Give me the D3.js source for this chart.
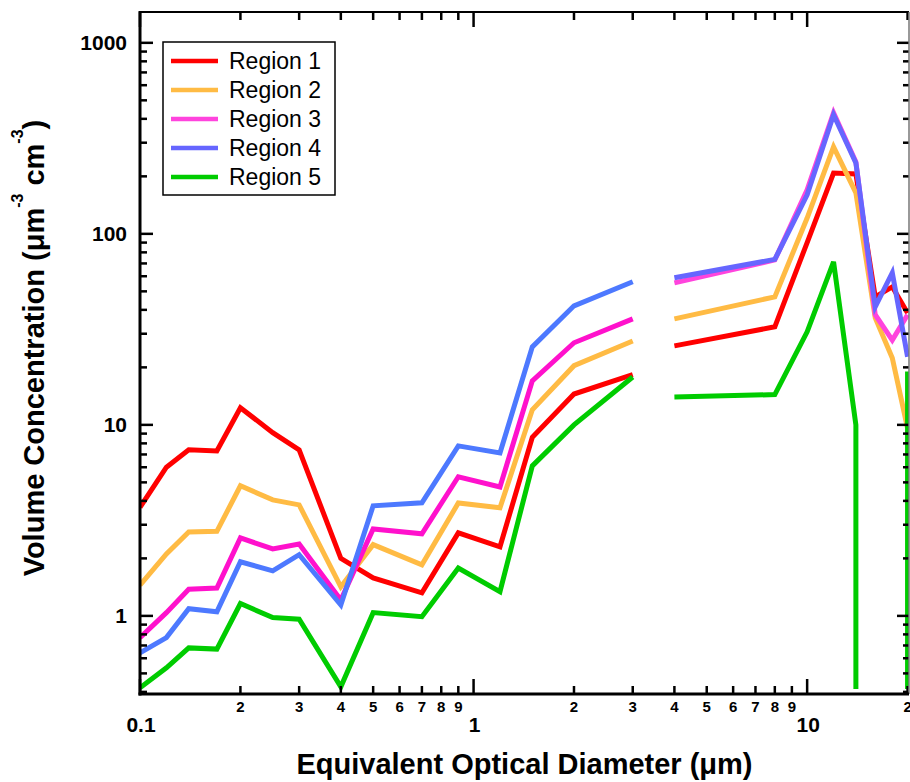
<!DOCTYPE html>
<html>
<head>
<meta charset="utf-8">
<script src="https://cdn.jsdelivr.net/npm/d3@7"></script>
<style>
  body { margin: 0; background: #fff; }
  svg { display: block; font-family: "Liberation Sans", Arial, sans-serif; }
</style>
</head>
<body>
<svg id="chart" width="910" height="782"></svg>
<script>
// size bins (µm) of the two instruments
const fineDiam = [0.1, 0.12, 0.14, 0.17, 0.2, 0.25, 0.3, 0.4, 0.5, 0.7, 0.9, 1.2, 1.5, 2, 3];
const coarseDiam = [4, 8, 10, 12, 14, 16, 18, 20];

const regionNames = ["Region 1", "Region 2", "Region 3", "Region 4", "Region 5"];
const legendColors = ["#ff0000", "#ffbb44", "#ff44dd", "#6666ff", "#00cc00"];
const fineColors = ["#ff0000", "#ffbb44", "#ff11cc", "#4d79ff", "#00cc00"];
const coarseColors = ["#ff0000", "#ffbb44", "#ff44dd", "#6666ff", "#00cc00"];

// volume concentration (µm^3 cm^-3), 0 = no data above zero
const region1Fine = [3.7, 6.0, 7.4, 7.3, 12.3, 9.1, 7.4, 2.0, 1.58, 1.32, 2.72, 2.3, 8.6, 14.5, 18.3];
const region2Fine = [1.45, 2.11, 2.75, 2.77, 4.8, 4.05, 3.81, 1.42, 2.36, 1.85, 3.9, 3.68, 12.0, 20.4, 27.5];
const region3Fine = [0.77, 1.04, 1.38, 1.40, 2.56, 2.24, 2.38, 1.21, 2.85, 2.69, 5.35, 4.73, 17.0, 26.9, 35.9];
const region4Fine = [0.64, 0.77, 1.09, 1.05, 1.92, 1.72, 2.09, 1.14, 3.77, 3.91, 7.76, 7.13, 25.6, 42.0, 56.1];
const region5Fine = [0.42, 0.535, 0.68, 0.67, 1.16, 0.98, 0.96, 0.425, 1.04, 0.99, 1.78, 1.34, 6.1, 10.0, 17.8];

const region1Coarse = [25.9, 32.6, 90, 208, 206, 46.8, 52.8, 38.5];
const region2Coarse = [35.9, 46.8, 121, 285, 164, 36.3, 22.4, 9.6];
const region3Coarse = [55.4, 73, 170, 430, 238, 37.7, 27.8, 37.7];
const region4Coarse = [58.9, 73.5, 160, 420, 235, 41.5, 62.6, 22.7];
const region5Coarse = [14.0, 14.4, 30.7, 71.3, 10.0, 0, 0, 19];

const fineSets = [region1Fine, region2Fine, region3Fine, region4Fine, region5Fine];
const coarseSets = [region1Coarse, region2Coarse, region3Coarse, region4Coarse, region5Coarse];

const plotLeft = 140, plotRight = 909, plotTop = 12, plotBottom = 694;

const svg = d3.select("#chart");

const x = d3.scaleLog().domain([0.1, 20.2]).range([plotLeft, plotRight]);
const y = d3.scaleLog().domain([0.39, 1450]).range([plotBottom, plotTop]);

const isMajor = v => Math.abs(Math.log10(v) - Math.round(Math.log10(v))) < 1e-6;

svg.append("clipPath").attr("id", "plot-clip")
  .append("rect")
  .attr("x", plotLeft).attr("y", plotTop)
  .attr("width", plotRight - plotLeft).attr("height", plotBottom - plotTop);

// LINES
// split on non-positive values; Igor style: drop to the axis at the last valid x
function segments(diam, vals) {
  const segs = [];
  let cur = [];
  vals.forEach((v, i) => {
    if (v > 0) {
      if (cur.length === 0 && i > 0 && vals[i - 1] <= 0) cur.push({ px: x(diam[i]), py: plotBottom - 5 });
      cur.push({ px: x(diam[i]), py: y(v) });
    } else if (cur.length) {
      cur.push({ px: cur[cur.length - 1].px, py: plotBottom - 5 });
      segs.push(cur);
      cur = [];
    }
  });
  if (cur.length) segs.push(cur);
  return segs;
}

const line = d3.line().x(d => d.px).y(d => d.py);
const plot = svg.append("g").attr("clip-path", "url(#plot-clip)");

regionNames.forEach((name, i) => {
  [[fineDiam, fineSets[i], fineColors[i]], [coarseDiam, coarseSets[i], coarseColors[i]]].forEach(([diam, vals, color]) => {
    segments(diam, vals).forEach(seg => {
      plot.append("path")
        .attr("d", line(seg))
        .attr("fill", "none")
        .attr("stroke", color)
        .attr("stroke-width", 5)
        .attr("stroke-linejoin", "miter");
    });
  });
});

// AXES
const axes = svg.append("g").attr("stroke", "#000");
const xTicks = x.ticks();
const yTicks = y.ticks();

xTicks.forEach(v => {
  const px = x(v);
  const len = isMajor(v) ? 15 : 8;
  axes.append("line").attr("x1", px).attr("x2", px).attr("y1", plotBottom).attr("y2", plotBottom - len).attr("stroke-width", 2.5);
  axes.append("line").attr("x1", px).attr("x2", px).attr("y1", plotTop).attr("y2", plotTop + len).attr("stroke-width", 2.5);
});
yTicks.forEach(v => {
  const py = y(v);
  const len = isMajor(v) ? 13 : 7;
  axes.append("line").attr("x1", plotLeft).attr("x2", plotLeft + len).attr("y1", py).attr("y2", py).attr("stroke-width", 2.5);
  axes.append("line").attr("x1", plotRight - len + 1).attr("x2", plotRight).attr("y1", py).attr("y2", py).attr("stroke-width", 2.5);
});

axes.append("line").attr("x1", plotLeft).attr("x2", plotRight).attr("y1", plotTop).attr("y2", plotTop).attr("stroke-width", 2);
axes.append("line").attr("x1", plotRight).attr("x2", plotRight).attr("y1", plotTop).attr("y2", plotBottom).attr("stroke-width", 1.5).attr("stroke", "#777");
axes.append("line").attr("x1", plotLeft).attr("x2", plotLeft).attr("y1", plotTop - 1).attr("y2", plotBottom + 1.5).attr("stroke-width", 3);
axes.append("line").attr("x1", plotLeft - 1.5).attr("x2", plotRight).attr("y1", plotBottom).attr("y2", plotBottom).attr("stroke-width", 3);

// tick labels
const labels = svg.append("g").attr("font-weight", "bold").attr("fill", "#000");
xTicks.forEach(v => {
  if (isMajor(v)) {
    labels.append("text").attr("x", x(v) + 1).attr("y", 732)
      .attr("text-anchor", "middle").attr("font-size", 21)
      .text(v < 1 ? v.toFixed(1) : String(v));
  } else {
    const k = Math.round(v / Math.pow(10, Math.floor(Math.log10(v) + 1e-9)));
    labels.append("text").attr("x", x(v)).attr("y", 712)
      .attr("text-anchor", "middle").attr("font-size", 15)
      .text(k);
  }
});
yTicks.filter(isMajor).forEach(v => {
  labels.append("text").attr("x", 127).attr("y", y(v))
    .attr("text-anchor", "end").attr("dominant-baseline", "central")
    .attr("font-size", 21).text(v);
});

// axis titles
svg.append("text")
  .attr("x", (plotLeft + plotRight) / 2).attr("y", 774)
  .attr("text-anchor", "middle").attr("font-weight", "bold").attr("font-size", 29)
  .text("Equivalent Optical Diameter (\u03bcm)");

const yTitle = svg.append("text")
  .attr("transform", "translate(44,348) rotate(-90)")
  .attr("text-anchor", "middle").attr("font-weight", "bold").attr("font-size", 29);
yTitle.append("tspan").text("Volume Concentration (\u03bcm");
yTitle.append("tspan").attr("dy", -21).attr("font-size", 16).text("-3");
yTitle.append("tspan").attr("dy", 21).text(" cm");
yTitle.append("tspan").attr("dy", -21).attr("font-size", 16).text("-3");
yTitle.append("tspan").attr("dy", 21).text(")");

// LEGEND
const legend = svg.append("g");
legend.append("rect")
  .attr("x", 163).attr("y", 42).attr("width", 172).attr("height", 153)
  .attr("fill", "#fff").attr("stroke", "#000").attr("stroke-width", 1.5);
regionNames.forEach((name, i) => {
  const ly = 61 + i * 29;
  legend.append("line").attr("x1", 171).attr("x2", 218).attr("y1", ly).attr("y2", ly)
    .attr("stroke", legendColors[i]).attr("stroke-width", 4.5);
  legend.append("text").attr("x", 229).attr("y", ly + 8)
    .attr("font-size", 23).attr("fill", "#000").text(name);
});
</script>
</body>
</html>
